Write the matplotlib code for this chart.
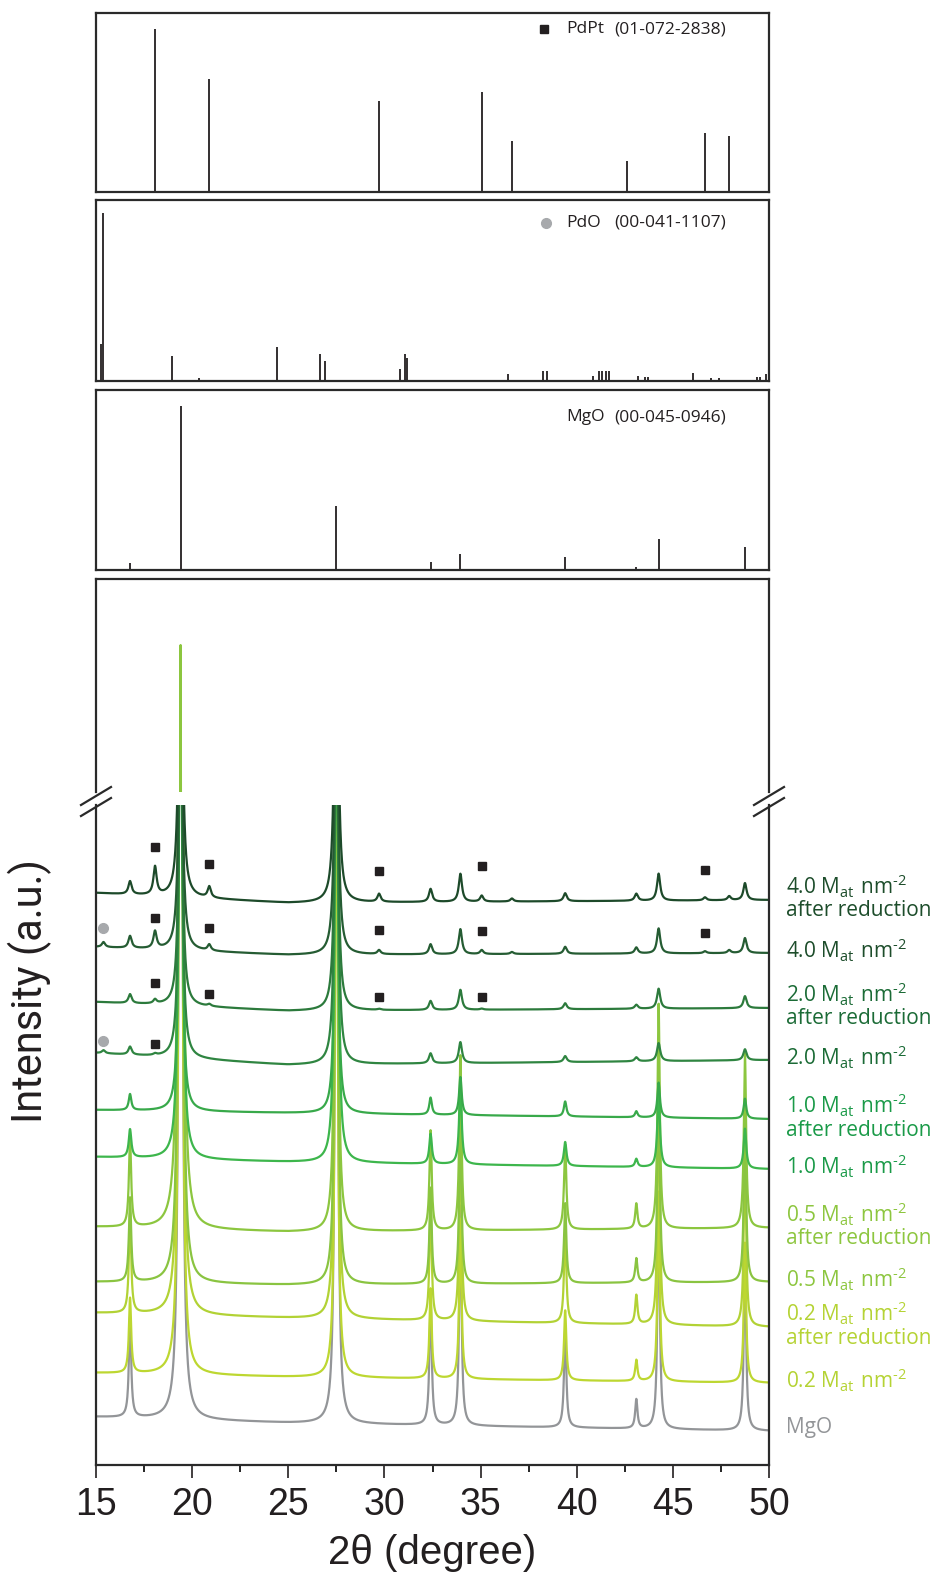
import numpy as np
import matplotlib.pyplot as plt
from matplotlib.lines import Line2D

plt.rcParams['mathtext.fontset'] = 'custom'
plt.rcParams['mathtext.rm'] = 'Open Sans'

# reference patterns: 2theta positions and relative intensities
pdpt_pos = [18.07, 20.89, 29.72, 35.06, 36.63, 42.60, 46.67, 47.93]
pdpt_int = [100, 69, 56, 61, 31, 19, 36, 34]

pdo_pos = [15.27, 15.39, 18.93, 20.34, 24.42, 26.66, 26.92, 30.79, 31.07, 31.18,
           36.41, 38.25, 38.45, 40.84, 41.15, 41.31, 41.50, 41.67, 43.18, 43.57,
           43.70, 46.04, 46.97, 47.38, 49.39, 49.55, 49.85]
pdo_int = [22, 100, 15, 2, 20, 16, 12, 7, 16, 14,
           4, 6, 6, 3, 6, 6, 6, 6, 3, 2.4,
           2.4, 5, 2, 2, 2.4, 2.4, 4]

mgo_pos = [16.77, 19.40, 27.50, 32.40, 33.95, 39.40, 43.10, 44.26, 48.75]
mgo_int = [4, 100, 39, 5, 10, 8, 2, 19, 14]

# measured patterns (top to bottom)
samples = ["4.0 red", "4.0", "2.0 red", "2.0", "1.0 red", "1.0",
           "0.5 red", "0.5", "0.2 red", "0.2", "MgO"]
unit = r"$\mathregular{M_{at}\ nm^{\text{-}2}}$"
labels = ["4.0 " + unit + "\nafter reduction", "4.0 " + unit,
          "2.0 " + unit + "\nafter reduction", "2.0 " + unit,
          "1.0 " + unit + "\nafter reduction", "1.0 " + unit,
          "0.5 " + unit + "\nafter reduction", "0.5 " + unit,
          "0.2 " + unit + "\nafter reduction", "0.2 " + unit,
          "MgO"]
line_colors = ["#1d4a2a", "#255c33", "#2c7a3c", "#2f8541", "#38a94a", "#3db64c",
               "#8cc63f", "#8ac441", "#b2d235", "#bdd731", "#939598"]
label_colors = ["#1d4d2b", "#1d4d2b", "#1b6b36", "#1b6b36", "#1a9a48", "#1a9a48",
                "#8dc63f", "#8dc63f", "#b5d334", "#b5d334", "#939598"]

# baseline (offset) at 15, 25 and 50 degrees
base_anchor_x = [15, 25, 50]
base_vals = [[572, 562, 565], [518, 510, 512], [463, 454, 457], [412, 400, 405],
             [355, 352, 346], [308, 303, 296], [238, 233, 237], [183, 180, 183],
             [152, 147, 138], [92, 88, 82], [48, 42, 34]]

# peak heights above baseline at the MgO reflections
mgo_heights = [[13, 400, 400, 13, 28, 8, 7, 27, 17],
               [12, 350, 350, 10, 25, 7, 6, 25, 15],
               [9, 350, 350, 9, 20, 6, 4, 20, 12],
               [8, 400, 400, 10, 21, 6, 4, 18, 11],
               [16, 600, 500, 17, 38, 15, 6, 35, 20],
               [28, 900, 700, 30, 80, 24, 8, 75, 40],
               [88, 2311, 900, 100, 175, 85, 25, 225, 175],
               [84, 1800, 850, 96, 170, 80, 24, 215, 165],
               [100, 1800, 900, 115, 200, 96, 29, 240, 180],
               [75, 1600, 800, 90, 160, 70, 21, 190, 140],
               [100, 1700, 1000, 130, 220, 100, 29, 235, 175]]
# peak heights at the PdPt reflections seen in the samples
pdpt_obs = [18.07, 20.89, 29.72, 35.06, 36.63, 46.67, 47.93]
pdpt_heights = [[28, 11, 8, 6, 3, 3, 4],
                [17, 6, 4, 4, 2, 2, 3],
                [4, 2, 1, 1, 0, 0, 0],
                [1.5, 0, 0, 0, 0, 0, 0]] + [[0] * 7] * 7
pdo_obs = 15.39
pdo_heights = [0, 5, 0, 3, 0, 0, 0, 0, 0, 0, 0]
peak_hw = [0.1, 0.1, 0.1, 0.1, 0.08, 0.08, 0.07, 0.07, 0.07, 0.07, 0.07]

# phase markers in the measured panel
sq_x = [[18.07, 20.89, 29.72, 35.06, 46.67], [18.07, 20.89, 29.72, 35.06, 46.67],
        [18.07, 20.89, 29.72, 35.06], [18.07]]
sq_y = [[618, 601, 594, 599, 595], [547, 537, 535, 534, 532],
        [482, 471, 468, 468], [421]]
circ_x = [15.39, 15.39]
circ_y = [537, 424]

INK = "#231f20"
W, H = 933, 1584


def fig_rect(left, top, right, bottom):
    return [left / W, 1 - bottom / H, (right - left) / W, (bottom - top) / H]


def lorentz(x, centers, heights, hw):
    y = np.zeros_like(x)
    for c, h in zip(centers, heights):
        y += h / (1 + ((x - c) / hw) ** 2)
    return y


fig = plt.figure(figsize=(W / 100, H / 100), dpi=100)

# stick panels
sticks = [(pdpt_pos, pdpt_int, 109.6, 13, 192, "PdPt", "(01-072-2838)", "s"),
          (pdo_pos, pdo_int, 108, 200, 381, "PdO", "(00-041-1107)", "o"),
          (mgo_pos, mgo_int, 109.6, 390, 570, "MgO", "(00-045-0946)", None)]
for pos, inten, top, y0, y1, name, card, mk in sticks:
    ax = fig.add_axes(fig_rect(96, y0, 769, y1))
    ax.vlines(pos, 0, inten, color=INK, lw=1.3)
    ax.set_xlim(15, 50)
    ax.set_ylim(0, top)
    ax.set_xticks([])
    ax.set_yticks([])
    for s in ax.spines.values():
        s.set_linewidth(1.6)
        s.set_color("#2a2a2a")
    ty = 1 - (16 if mk == "s" else 23 if mk == "o" else 27) / (y1 - y0)
    if mk == "s":
        ax.plot([(544 - 96) / 673], [ty], marker="s", ms=6, color=INK,
                transform=ax.transAxes, clip_on=False)
    elif mk == "o":
        ax.plot([(546 - 96) / 673], [ty], marker="o", ms=7, color="#a7a9ac",
                transform=ax.transAxes, clip_on=False)
    ax.text((566 - 96) / 673, ty, name, transform=ax.transAxes, ha="left",
            va="center", fontsize=12.5, family="Open Sans", color=INK)
    ax.text((614 - 96) / 673, ty, card, transform=ax.transAxes, ha="left",
            va="center", fontsize=12.5, family="Open Sans", color=INK)

# measured patterns with broken y axis
ax_hi = fig.add_axes(fig_rect(96, 579, 769, 792))
ax_lo = fig.add_axes(fig_rect(96, 805, 769, 1465))

x = np.linspace(15, 50, 3501)
for i in reversed(range(len(samples))):
    y = np.interp(x, base_anchor_x, base_vals[i])
    y = y + lorentz(x, mgo_pos, mgo_heights[i], peak_hw[i])
    y = y + lorentz(x, pdpt_obs, pdpt_heights[i], peak_hw[i])
    y = y + lorentz(x, [pdo_obs], [pdo_heights[i]], peak_hw[i])
    for ax in (ax_hi, ax_lo):
        ax.plot(x, y, color=line_colors[i], lw=1.6)
    ax_lo.text(1.025, base_vals[i][-1] + 3, labels[i], transform=ax_lo.get_yaxis_transform(),
               ha="left", va="center", fontsize=15, family="Open Sans",
               color=label_colors[i], linespacing=1.05)

for xs, ys in zip(sq_x, sq_y):
    ax_lo.plot(xs, ys, ls="none", marker="s", ms=6, color=INK)
ax_lo.plot(circ_x, circ_y, ls="none", marker="o", ms=7, color="#a7a9ac")

ax_lo.set_ylim(0, 660)
ax_hi.set_ylim(2400, 2613)
for ax in (ax_hi, ax_lo):
    ax.set_xlim(15, 50)
    ax.set_yticks([])
    for s in ax.spines.values():
        s.set_linewidth(1.6)
        s.set_color("#2a2a2a")
ax_hi.spines["bottom"].set_visible(False)
ax_hi.set_xticks([])
ax_lo.spines["top"].set_visible(False)

ax_lo.set_xticks(np.arange(15, 51, 5))
ax_lo.set_xticks(np.arange(17.5, 50, 5), minor=True)
ax_lo.tick_params(axis="x", which="major", direction="out", length=9.5, width=1.2,
                  pad=6, labelsize=27, colors=INK)
ax_lo.tick_params(axis="x", which="minor", direction="out", length=5, width=1.2)
for t in ax_lo.get_xticklabels():
    t.set_family("Liberation Sans")
ax_lo.set_xlabel("2θ (degree)", fontsize=29, family="Liberation Sans", color=INK,
                 labelpad=8)

fig.text(30 / W, 1 - 991 / H, "Intensity (a.u.)", rotation=90, ha="center",
         va="center", fontsize=30, family="Roboto", color=INK)

# break marks on both spines
for xc in (96, 769):
    for dy in (0, 11):
        fig.add_artist(Line2D([(xc - 15) / W, (xc + 15) / W],
                              [1 - (805 + dy) / H, 1 - (787 + dy) / H],
                              transform=fig.transFigure, color="#2a2a2a", lw=1.6))

fig.savefig("out.png", dpi=100)
